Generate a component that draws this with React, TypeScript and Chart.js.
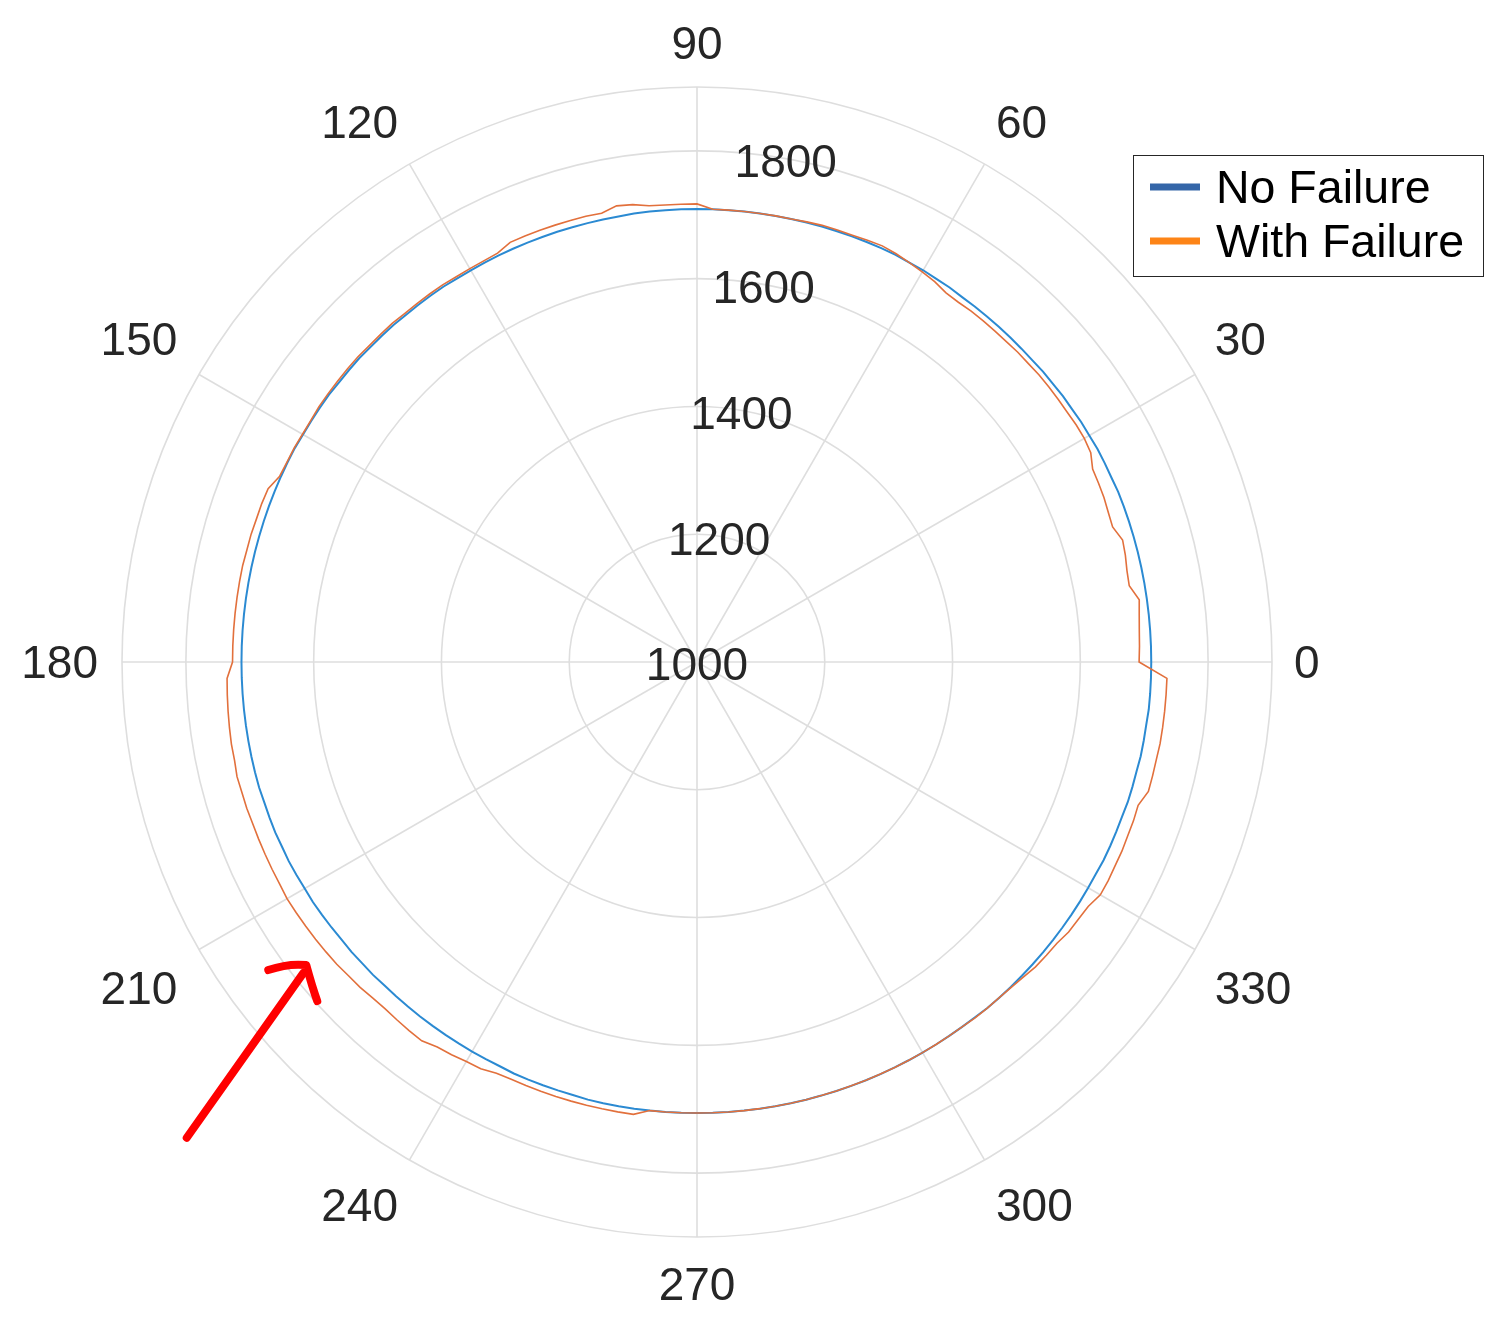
import React, { useEffect, useRef } from 'react';
import { Chart, registerables } from 'chart.js';

Chart.register(...registerables);

// ---------- data (angles in degrees, counter-clockwise from 0 at the right, 2 degree steps) ----------
const ANGLE_STEP = 2;
const anglesDeg: number[] = Array.from({ length: 360 / ANGLE_STEP }, (_, i) => i * ANGLE_STEP);

// No Failure: one row = 30 degrees (0..28, 30..58, ...)
const noFailure: number[] = [
  1711, 1711, 1711, 1711, 1711, 1711, 1711, 1711, 1711, 1711, 1711, 1711, 1710, 1710, 1710,
  1709, 1709, 1708, 1708, 1707, 1707, 1706, 1706, 1706, 1706, 1706, 1706, 1706, 1707, 1707,
  1708, 1708, 1709, 1709, 1709, 1709, 1709, 1709, 1709, 1709, 1709, 1709, 1709, 1709, 1709,
  1709, 1709, 1709, 1709, 1709, 1708, 1708, 1708, 1708, 1708, 1708, 1708, 1708, 1708, 1708,
  1708, 1708, 1709, 1709, 1709, 1709, 1710, 1710, 1710, 1711, 1711, 1711, 1712, 1712, 1712,
  1712, 1713, 1713, 1713, 1713, 1713, 1713, 1713, 1713, 1713, 1713, 1713, 1713, 1713, 1713,
  1713, 1713, 1713, 1713, 1713, 1713, 1713, 1713, 1713, 1712, 1712, 1712, 1711, 1711, 1710,
  1709, 1709, 1708, 1707, 1706, 1706, 1705, 1705, 1704, 1704, 1704, 1704, 1704, 1704, 1704,
  1704, 1704, 1704, 1705, 1705, 1705, 1705, 1705, 1706, 1706, 1706, 1706, 1706, 1706, 1706,
  1706, 1706, 1706, 1706, 1706, 1706, 1706, 1706, 1706, 1706, 1706, 1706, 1706, 1706, 1706,
  1706, 1706, 1706, 1706, 1706, 1707, 1707, 1707, 1707, 1707, 1707, 1707, 1707, 1707, 1707,
  1707, 1707, 1708, 1708, 1708, 1708, 1709, 1709, 1709, 1710, 1710, 1710, 1711, 1711, 1711,
];

// With Failure: one row = 30 degrees
const withFailure: number[] = [
  1692, 1693, 1694, 1696, 1699, 1687, 1688, 1691, 1693, 1684, 1685, 1687, 1688, 1689, 1698,
  1700, 1700, 1699, 1699, 1699, 1699, 1698, 1698, 1697, 1697, 1697, 1697, 1696, 1697, 1702,
  1705, 1708, 1711, 1713, 1712, 1711, 1711, 1711, 1710, 1709, 1709, 1709, 1709, 1709, 1709,
  1717, 1717, 1717, 1718, 1723, 1725, 1718, 1719, 1719, 1719, 1719, 1719, 1719, 1712, 1711,
  1711, 1711, 1712, 1712, 1712, 1712, 1713, 1713, 1713, 1714, 1714, 1714, 1714, 1714, 1713,
  1713, 1714, 1714, 1715, 1724, 1725, 1725, 1726, 1726, 1727, 1727, 1727, 1727, 1727, 1727,
  1727, 1736, 1737, 1738, 1739, 1740, 1740, 1742, 1741, 1741, 1740, 1740, 1740, 1740, 1740,
  1741, 1740, 1739, 1738, 1737, 1736, 1734, 1733, 1731, 1730, 1731, 1732, 1733, 1727, 1725,
  1722, 1721, 1716, 1715, 1715, 1715, 1715, 1715, 1715, 1715, 1715, 1715, 1706, 1706, 1706,
  1706, 1706, 1706, 1706, 1706, 1706, 1706, 1706, 1706, 1706, 1706, 1706, 1706, 1706, 1706,
  1706, 1706, 1706, 1706, 1707, 1707, 1707, 1708, 1710, 1713, 1714, 1715, 1719, 1720, 1722,
  1729, 1729, 1728, 1728, 1727, 1727, 1726, 1735, 1735, 1735, 1736, 1736, 1736, 1736, 1736,
];

const seriesNames = ['No Failure', 'With Failure'];
const radialTickLabels = [1000, 1200, 1400, 1600, 1800];
const angleTickLabels = [0, 30, 60, 90, 120, 150, 180, 210, 240, 270, 300, 330];
const R_MIN = 1000;
const R_MAX = 1900;

// ---------- styles ----------
const LINE_BLUE = '#2b8ad2';
const LINE_ORANGE = '#e2703c';
const LEGEND_BLUE = '#3466a8';
const LEGEND_ORANGE = '#fd8417';
const GRID = '#dedede';
const TEXT = '#262626';
const FONT_SIZE = 46;
const FONT = `${FONT_SIZE}px "Liberation Sans", Arial, sans-serif`;
const RADIAL_LABEL_ANGLE = 80;

// Chart.js radar goes clockwise; convert CCW angle -> library index
const N = anglesDeg.length;
const idxForAngle = (a: number) => ((360 - a) / ANGLE_STEP) % N;
const toLib = (arr: number[]) => Array.from({ length: N }, (_, i) => arr[(N - i) % N]);

const overlayPlugin = {
  id: 'overlay',
  afterDraw(chart: any) {
    const ctx: CanvasRenderingContext2D = chart.ctx;
    const r = chart.scales.r;
    const cap = FONT_SIZE * 0.716;
    ctx.save();
    ctx.font = FONT;
    ctx.fillStyle = TEXT;
    ctx.textAlign = 'center';
    ctx.textBaseline = 'alphabetic';

    // radial tick labels along 80 degrees
    radialTickLabels.forEach((v) => {
      const d = r.getDistanceFromCenterForValue(v);
      const p = r.getPointPosition(idxForAngle(RADIAL_LABEL_ANGLE), d);
      ctx.fillText(String(v), p.x, p.y + cap / 2 + 2);
    });

    // angle labels: anchored just outside the outer ring, aligned away from the centre
    angleTickLabels.forEach((a) => {
      const txt = String(a);
      const th = (a * Math.PI) / 180;
      const c = Math.cos(th);
      const s = Math.sin(th);
      const p = r.getPointPosition(idxForAngle(a), r.drawingArea + 17);
      let x = p.x;
      const extra = Math.abs(c) > 0.8 ? 2 : 0;
      if (c > 0.1) { ctx.textAlign = 'left'; x += 3 + extra; }
      else if (c < -0.1) { ctx.textAlign = 'right'; x -= 3 + extra * 2; }
      else ctx.textAlign = 'center';
      const y = s > 0.1 ? p.y - 11 : s < -0.1 ? p.y + 13 + cap : p.y + cap / 2;
      ctx.fillText(txt, x, y);
    });

    // legend
    const lx = 1133.5, ly = 155.5, lw = 350, lh = 121;
    ctx.fillStyle = '#ffffff';
    ctx.fillRect(lx, ly, lw, lh);
    ctx.strokeStyle = '#262626';
    ctx.lineWidth = 1;
    ctx.strokeRect(lx, ly, lw, lh);
    const rows = [
      { name: seriesNames[0], color: LEGEND_BLUE, y: 187 },
      { name: seriesNames[1], color: LEGEND_ORANGE, y: 241 },
    ];
    ctx.font = `46.5px "Liberation Sans", Arial, sans-serif`;
    rows.forEach((row) => {
      ctx.strokeStyle = row.color;
      ctx.lineWidth = 7;
      ctx.beginPath();
      ctx.moveTo(1150, row.y);
      ctx.lineTo(1200, row.y);
      ctx.stroke();
      ctx.fillStyle = '#000000';
      ctx.textAlign = 'left';
      ctx.fillText(row.name, 1216, row.y + cap / 2);
    });

    // red annotation arrow
    const polar = (deg: number, dist: number) => ({
      x: r.xCenter + dist * Math.cos((deg * Math.PI) / 180),
      y: r.yCenter - dist * Math.sin((deg * Math.PI) / 180),
    });
    const tip = polar(217.8, r.getDistanceFromCenterForValue(1774));
    const tail = polar(223, r.getDistanceFromCenterForValue(2092));
    ctx.strokeStyle = '#ff0000';
    ctx.lineWidth = 8;
    ctx.lineCap = 'round';
    ctx.lineJoin = 'round';
    ctx.beginPath();
    ctx.moveTo(tail.x, tail.y);
    ctx.lineTo(tip.x - 3, tip.y + 8);
    ctx.stroke();
    ctx.beginPath();
    ctx.moveTo(tip.x - 38, tip.y + 5);
    ctx.quadraticCurveTo(tip.x - 18, tip.y - 2, tip.x, tip.y);
    ctx.quadraticCurveTo(tip.x + 6, tip.y + 22, tip.x + 11, tip.y + 36);
    ctx.stroke();
    ctx.restore();
  },
};

export default function App() {
  const canvasRef = useRef<HTMLCanvasElement | null>(null);

  useEffect(() => {
    if (!canvasRef.current) return;
    const chart = new Chart(canvasRef.current, {
      type: 'radar',
      data: {
        labels: toLib(anglesDeg).map(String),
        datasets: [
          {
            label: seriesNames[0],
            data: toLib(noFailure),
            borderColor: LINE_BLUE,
            backgroundColor: LINE_BLUE,
            borderWidth: 2,
            pointRadius: 0,
            pointHoverRadius: 0,
            fill: false,
            order: 1,
          },
          {
            label: seriesNames[1],
            data: toLib(withFailure),
            borderColor: LINE_ORANGE,
            backgroundColor: LINE_ORANGE,
            borderWidth: 1.6,
            pointRadius: 0,
            pointHoverRadius: 0,
            fill: false,
            order: 0,
          },
        ],
      },
      options: {
        responsive: false,
        animation: false,
        devicePixelRatio: 1,
        layout: { padding: { left: 122, top: 87, right: 228, bottom: 87 } },
        plugins: { legend: { display: false }, tooltip: { enabled: false } },
        elements: { line: { tension: 0 } },
        scales: {
          r: {
            min: R_MIN,
            max: R_MAX,
            startAngle: 90,
            ticks: { display: false, stepSize: 100 },
            pointLabels: { display: false },
            grid: {
              circular: true,
              color: GRID,
              lineWidth: (c: any) =>
                c.tick && (c.tick.value % 200 === 0 || c.tick.value === R_MAX) ? 1.6 : 0,
            },
            angleLines: {
              display: true,
              color: GRID,
              lineWidth: (c: any) => (c.index % (30 / ANGLE_STEP) === 0 ? 1.6 : 0),
            },
          },
        },
      },
      plugins: [overlayPlugin],
    } as any);
    return () => chart.destroy();
  }, []);

  return (
    <div style={{ position: 'absolute', left: 0, top: 0, width: 1500, height: 1324, background: '#ffffff' }}>
      <canvas ref={canvasRef} width={1500} height={1324} style={{ display: 'block' }} />
    </div>
  );
}
